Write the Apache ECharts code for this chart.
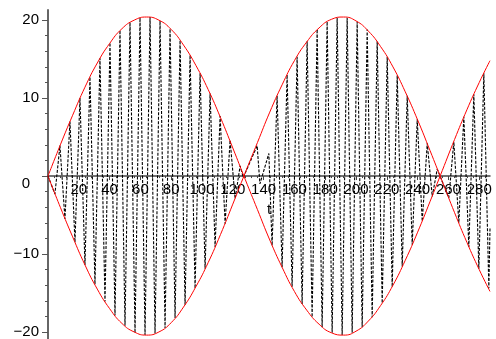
<!DOCTYPE html>
<html>
<head>
<meta charset="utf-8">
<script src="https://cdn.jsdelivr.net/npm/echarts@6/dist/echarts.min.js"></script>
<style>
  html, body { margin: 0; padding: 0; background: #fff; }
  #chart { width: 496px; height: 339px; }
</style>
</head>
<body>
<div id="chart"></div>
<script>
// oscillation turning points (t, y)
const waveT = [
  0, 4.5, 7.75, 11, 14.25, 17.5, 20.75, 24, 27.25, 30.5, 33.75, 37, 40.25, 43.5, 46.75,
  50, 53.25, 56.5, 59.75, 63, 66.25, 69.5, 72.75, 76, 79.25, 82.5, 85.75, 89, 92.25,
  95.5, 98.75, 102, 105.25, 108.5, 111.75, 115, 118.25, 121.5, 124.75,
  126.8, 135.8, 137.6, 143.4,
  145.5, 148.75, 152, 155.25, 158.5, 161.75, 165, 168.25, 171.5, 174.75, 178, 181.25,
  184.5, 187.75, 191, 194.25, 197.5, 200.75, 204, 207.25, 210.5, 213.75, 217, 220.25,
  223.5, 226.75, 230, 233.25, 236.5, 239.75, 243, 246.25, 249.5, 252.75,
  260.25, 263.5, 266.75, 270, 273.25, 276.5, 279.75, 283, 286.25, 287
];
const waveY = [
  0, -2.3, 3.9, -5.5, 7.0, -8.5, 10.0, -11.4, 12.7, -13.9, 15.1, -16.1, 17.1, -17.9, 18.7,
  -19.2, 19.7, -20.1, 20.3, -20.4, 20.4, -20.2, 19.9, -19.5, 18.9, -18.2, 17.4, -16.5, 15.5,
  -14.4, 13.2, -11.9, 10.6, -9.1, 7.7, -6.1, 4.6, -2.9, 1.3,
  -0.2, 3.9, -1.0, 2.9,
  -8.9, 10.3, -11.7, 13.0, -14.2, 15.3, -16.4, 17.3, -18.1, 18.8, -19.4, 19.8,
  -20.1, 20.3, -20.4, 20.3, -20.1, 19.8, -19.4, 18.8, -18.1, 17.3, -16.3, 15.3,
  -14.2, 12.9, -11.6, 10.3, -8.8, 7.3, -5.8, 4.2, -2.6, 0.9,
  -2.8, 4.4, -6.0, 7.6, -9.1, 10.5, -11.9, 13.2, -14.4, -6.7
];

// red envelope curves
const envT = [
  0, 8, 16, 24, 32, 40, 48, 56, 64, 72, 80, 88, 96, 104, 112, 120, 128, 136, 144,
  152, 160, 168, 176, 184, 192, 200, 208, 216, 224, 232, 240, 248, 256, 264, 272, 280, 287
];
const envUpper = [
  0, 4.0, 7.8, 11.4, 14.5, 17.0, 18.9, 20.0, 20.4, 20.0, 18.8, 16.8, 14.2, 11.1, 7.5, 3.6, -0.4, -4.3, -8.2,
  -11.7, -14.8, -17.2, -19.0, -20.1, -20.4, -19.9, -18.6, -16.6, -14.0, -10.8, -7.2, -3.3, 0.7, 4.7, 8.5, 12.0, 14.8
];
const envLower = [
  0, -4.0, -7.8, -11.4, -14.5, -17.0, -18.9, -20.0, -20.4, -20.0, -18.8, -16.8, -14.2, -11.1, -7.5, -3.6, 0.4, 4.3, 8.2,
  11.7, 14.8, 17.2, 19.0, 20.1, 20.4, 19.9, 18.6, 16.6, 14.0, 10.8, 7.2, 3.3, -0.7, -4.7, -8.5, -12.0, -14.8
];

const xTicks = [20, 40, 60, 80, 100, 120, 140, 160, 180, 200, 220, 240, 260, 280];
const xMinorTicks = [4, 8, 12, 16, 24, 28, 32, 36, 44, 48, 52, 56, 64, 68, 72, 76, 84, 88, 92, 96,
  104, 108, 112, 116, 124, 128, 132, 136, 144, 148, 152, 156, 164, 168, 172, 176, 184, 188, 192, 196,
  204, 208, 212, 216, 224, 228, 232, 236, 244, 248, 252, 256, 264, 268, 272, 276, 284];
const yTicks = [-20, -10, 0, 10, 20];
const yMinorTicks = [-18, -16, -14, -12, -8, -6, -4, -2, 2, 4, 6, 8, 12, 14, 16, 18];

const font = "'Liberation Sans', Arial, sans-serif";
const chart = echarts.init(document.getElementById("chart"));

// x axis sits at y = 0: shift it up from the grid bottom
const Y_MIN = -20.9, Y_MAX = 21.3, GRID_TOP = 10, GRID_H = 329;
const zeroOffset = -(GRID_H * (-Y_MIN) / (Y_MAX - Y_MIN));

const option = {
  animation: false,
  grid: { left: 48, right: 6, top: GRID_TOP, bottom: 339 - GRID_TOP - GRID_H, containLabel: false, outerBoundsMode: "none" },
  xAxis: [
    {
      type: "value",
      position: "bottom",
      offset: zeroOffset,
      min: 0,
      max: 287,
      name: "t",
      nameLocation: "middle",
      nameGap: 16,
      nameTextStyle: { fontFamily: font, fontSize: 15, color: "#000" },
      axisLine: { onZero: false, lineStyle: { color: "#444", width: 1.5 } },
      axisTick: { customValues: xTicks, length: 4, lineStyle: { color: "#444" } },
      axisLabel: { customValues: xTicks, margin: 6, fontFamily: font, fontSize: 15, color: "#000" },
      splitLine: { show: false },
    },
    {
      type: "value",
      position: "bottom",
      offset: zeroOffset,
      min: 0,
      max: 287,
      axisLine: { show: false, onZero: false },
      axisTick: { customValues: xMinorTicks, length: 2, lineStyle: { color: "#444" } },
      axisLabel: { show: false },
      splitLine: { show: false },
    },
  ],
  yAxis: [
    {
      type: "value",
      min: Y_MIN,
      max: Y_MAX,
      axisLine: { onZero: false, lineStyle: { color: "#666", width: 2 } },
      axisTick: { customValues: yTicks, length: 6, lineStyle: { color: "#555" } },
      axisLabel: {
        customValues: yTicks,
        margin: 9,
        fontFamily: font,
        fontSize: 15,
        color: "#000",
        formatter: (v) => (v === 0 ? "{z|0}" : v < 0 ? "\u2212" + -v : String(v)),
        rich: { z: { fontFamily: font, fontSize: 15, color: "#000", padding: [16, 9, 0, 0] } },
      },
      splitLine: { show: false },
    },
    {
      type: "value",
      position: "left",
      min: Y_MIN,
      max: Y_MAX,
      axisLine: { show: false, onZero: false },
      axisTick: { customValues: yMinorTicks, length: 3, lineStyle: { color: "#555" } },
      axisLabel: { show: false },
      splitLine: { show: false },
    },
  ],
  series: [
    {
      type: "line",
      data: waveT.map((t, i) => [t, waveY[i]]),
      showSymbol: false,
      lineStyle: { color: "#000", width: 1.1, type: [3, 1.5] },
    },
    {
      type: "line",
      data: envT.map((t, i) => [t, envUpper[i]]),
      showSymbol: false,
      smooth: true,
      lineStyle: { color: "#ff0000", width: 1 },
    },
    {
      type: "line",
      data: envT.map((t, i) => [t, envLower[i]]),
      showSymbol: false,
      smooth: true,
      lineStyle: { color: "#ff0000", width: 1 },
    },
  ],
};

chart.setOption(option);
</script>
</body>
</html>
